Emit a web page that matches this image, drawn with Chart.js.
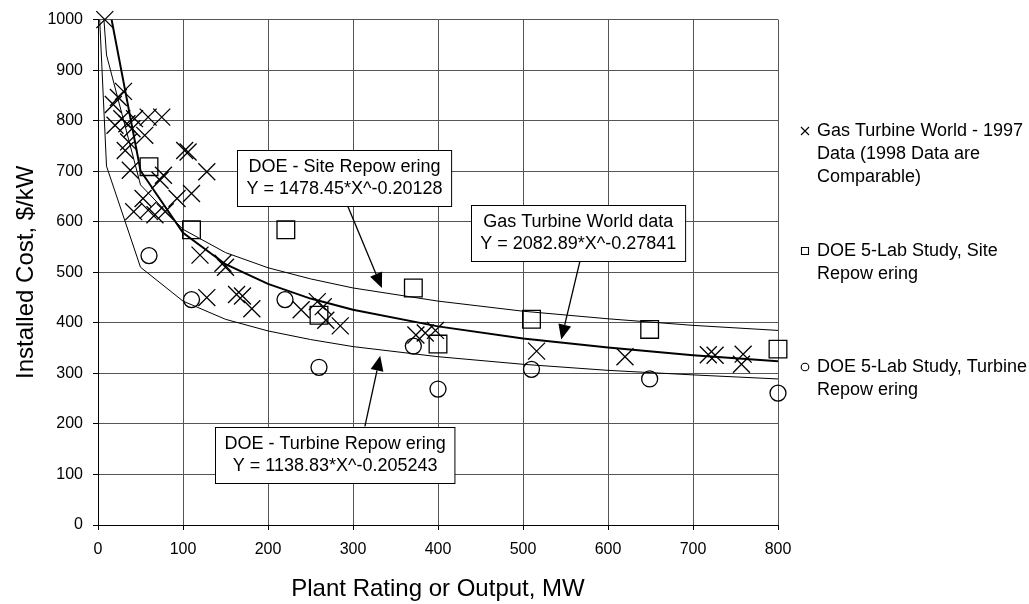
<!DOCTYPE html>
<html>
<head>
<meta charset="utf-8">
<script src="https://cdn.jsdelivr.net/npm/chart.js@4.4.1/dist/chart.umd.min.js"></script>
<style>
  html, body { margin: 0; padding: 0; background: #fff; }
  canvas { display: block; }
</style>
</head>
<body>
<canvas id="costChart" width="1029" height="604"></canvas>
<script>
// Gas Turbine World - 1997 data (X markers)
var gtwX = [8, 30, 24, 18, 20, 28, 34, 43, 59, 75, 40, 55, 36, 32, 102, 106, 128, 38, 77, 73,
            110, 93, 53, 42, 59, 67, 79, 120, 147, 150, 128, 163, 170, 181, 239, 258, 265, 268,
            285, 374, 385, 397, 516, 620, 718, 726, 759, 757];
var gtwY = [1000, 858, 846, 832, 791, 804, 794, 804, 807, 807, 784, 771, 758, 741, 741, 738, 699, 702, 692, 682,
            656, 646, 646, 620, 623, 614, 620, 534, 518, 510, 450, 456, 453, 428, 426, 442, 432, 405,
            394, 376, 380, 385, 344, 333, 337, 336, 338, 318];

// DOE 5-Lab Study, Site Repowering (squares)
var siteX = [60, 110, 221, 260, 371, 400, 510, 649, 800];
var siteY = [709, 584, 584, 415, 469, 358, 407, 387, 348];

// DOE 5-Lab Study, Turbine Repowering (circles)
var turbX = [60, 110, 220, 260, 371, 400, 510, 649, 800];
var turbY = [533, 446, 446, 312, 354, 269, 308, 289, 261];

// trend curves
var gtwFitX = [16, 50, 100, 150, 200, 250, 300, 400, 500, 600, 700, 800];
var gtwFitY = [1000, 701, 578, 516, 477, 448, 426, 393, 369, 351, 336, 324];
var siteFitX = [7, 10, 50, 100, 150, 200, 250, 300, 400, 500, 600, 700, 800];
var siteFitY = [1000, 930, 673, 585, 539, 509, 487, 469, 443, 423, 408, 395, 385];
var turbFitX = [2, 10, 50, 100, 150, 200, 250, 300, 400, 500, 600, 700, 800];
var turbFitY = [1000, 710, 510, 443, 407, 384, 367, 353, 333, 318, 306, 297, 289];

var legendLabels = [
  ['Gas Turbine World - 1997', 'Data (1998 Data are', 'Comparable)'],
  ['DOE 5-Lab Study, Site', 'Repow ering'],
  ['DOE 5-Lab Study, Turbine', 'Repow ering']
];

var boxTexts = [
  ['DOE - Site Repow ering', 'Y = 1478.45*X^-0.20128'],
  ['Gas Turbine World data', 'Y = 2082.89*X^-0.27841'],
  ['DOE - Turbine Repow ering', 'Y = 1138.83*X^-0.205243']
];

function pts(xs, ys) {
  var out = [];
  for (var i = 0; i < xs.length; i++) out.push({x: xs[i], y: ys[i]});
  return out;
}

var FONT = '"Liberation Sans", Arial, sans-serif';

// box centres and arrows in data units
var boxPlace = [
  {cx: 290, cy: 687, from: [294, 630], to: [334, 469]},
  {cx: 565, cy: 578, from: [567, 522], to: [545, 367]},
  {cx: 279, cy: 139, from: [314, 195], to: [332, 335]}
];

var calloutPlugin = {
  id: 'callouts',
  afterDatasetsDraw: function(chart) {
    var ctx = chart.ctx;
    var xs = chart.scales.x, ys = chart.scales.y;
    ctx.save();
    ctx.font = '18px ' + FONT;
    ctx.strokeStyle = '#000';
    ctx.fillStyle = '#000';
    ctx.lineWidth = 1.3;
    boxPlace.forEach(function(b) {
      var x1 = xs.getPixelForValue(b.from[0]), y1 = ys.getPixelForValue(b.from[1]);
      var x2 = xs.getPixelForValue(b.to[0]), y2 = ys.getPixelForValue(b.to[1]);
      var ang = Math.atan2(y2 - y1, x2 - x1);
      var len = 15, half = 6.5;
      var bx = x2 - len * Math.cos(ang), by = y2 - len * Math.sin(ang);
      ctx.beginPath();
      ctx.moveTo(x1, y1);
      ctx.lineTo(bx, by);
      ctx.stroke();
      ctx.beginPath();
      ctx.moveTo(x2, y2);
      ctx.lineTo(bx + half * Math.sin(ang), by - half * Math.cos(ang));
      ctx.lineTo(bx - half * Math.sin(ang), by + half * Math.cos(ang));
      ctx.closePath();
      ctx.fill();
    });
    ctx.lineWidth = 1;
    boxPlace.forEach(function(b, i) {
      var lines = boxTexts[i];
      var w = Math.max(ctx.measureText(lines[0]).width, ctx.measureText(lines[1]).width) + 18;
      var h = 56;
      var cx = xs.getPixelForValue(b.cx), cy = ys.getPixelForValue(b.cy);
      var left = Math.round(cx - w / 2) + 0.5, top = Math.round(cy - h / 2) + 0.5;
      ctx.fillStyle = '#fff';
      ctx.fillRect(left, top, w, h);
      ctx.strokeRect(left, top, w, h);
      ctx.fillStyle = '#000';
      ctx.textAlign = 'center';
      ctx.textBaseline = 'middle';
      ctx.fillText(lines[0], cx, cy - 11);
      ctx.fillText(lines[1], cx, cy + 11);
    });
    ctx.restore();
  }
};

var legendPlugin = {
  id: 'sideLegend',
  afterDraw: function(chart) {
    var ctx = chart.ctx;
    var tops = [131, 251, 367];
    ctx.save();
    ctx.font = '18px ' + FONT;
    ctx.fillStyle = '#000';
    ctx.strokeStyle = '#000';
    ctx.lineWidth = 1.1;
    ctx.textAlign = 'left';
    ctx.textBaseline = 'middle';
    legendLabels.forEach(function(lines, i) {
      var mx = 805, my = tops[i];
      ctx.beginPath();
      if (i === 0) {
        ctx.moveTo(mx - 4, my - 4); ctx.lineTo(mx + 4, my + 4);
        ctx.moveTo(mx - 4, my + 4); ctx.lineTo(mx + 4, my - 4);
      } else if (i === 1) {
        ctx.rect(mx - 3.5, my - 3.5, 7, 7);
      } else {
        ctx.arc(mx, my, 3.8, 0, Math.PI * 2);
      }
      ctx.stroke();
      lines.forEach(function(t, k) {
        ctx.fillText(t, 817, my + k * 23);
      });
    });
    ctx.restore();
  }
};

var ctx = document.getElementById('costChart').getContext('2d');
var chart = new Chart(ctx, {
  type: 'scatter',
  data: {
    datasets: [
      {
        label: 'Gas Turbine World - 1997 Data',
        data: pts(gtwX, gtwY),
        pointStyle: 'crossRot',
        pointRadius: 12,
        borderColor: '#000',
        backgroundColor: 'rgba(0,0,0,0)',
        pointBorderWidth: 1.3,
        clip: false
      },
      {
        label: 'DOE 5-Lab Study, Site Repowering',
        data: pts(siteX, siteY),
        pointStyle: 'rect',
        pointRadius: 12.5,
        borderColor: '#000',
        backgroundColor: 'rgba(0,0,0,0)',
        pointBorderWidth: 1.3,
        clip: false
      },
      {
        label: 'DOE 5-Lab Study, Turbine Repowering',
        data: pts(turbX, turbY),
        pointStyle: 'circle',
        pointRadius: 8,
        borderColor: '#000',
        backgroundColor: 'rgba(0,0,0,0)',
        pointBorderWidth: 1.3,
        clip: false
      },
      {
        label: 'GTW fit',
        data: pts(gtwFitX, gtwFitY),
        showLine: true,
        pointRadius: 0,
        borderColor: '#000',
        borderWidth: 2,
        tension: 0
      },
      {
        label: 'Site fit',
        data: pts(siteFitX, siteFitY),
        showLine: true,
        pointRadius: 0,
        borderColor: '#000',
        borderWidth: 1,
        tension: 0
      },
      {
        label: 'Turbine fit',
        data: pts(turbFitX, turbFitY),
        showLine: true,
        pointRadius: 0,
        borderColor: '#000',
        borderWidth: 1,
        tension: 0
      }
    ]
  },
  options: {
    responsive: false,
    animation: false,
    layout: { padding: { top: 17, right: 251, left: 0, bottom: 0 } },
    plugins: {
      legend: { display: false },
      tooltip: { enabled: false }
    },
    scales: {
      x: {
        type: 'linear',
        min: 0,
        max: 800,
        ticks: { stepSize: 100, color: '#000', padding: 10, font: { size: 16, family: FONT },
                 callback: function(v) { return String(v); } },
        grid: { color: '#555', lineWidth: 1, tickLength: 5, tickColor: '#000' },
        border: { color: '#000', width: 1 },
        title: { display: true, text: 'Plant Rating or Output, MW', color: '#000',
                 font: { size: 24, family: FONT }, padding: { bottom: 0 } },
        afterFit: function(s) { s.height = 79; }
      },
      y: {
        type: 'linear',
        min: 0,
        max: 1000,
        ticks: { stepSize: 100, color: '#000', padding: 10, font: { size: 16, family: FONT },
                 callback: function(v) { return String(v); } },
        grid: { color: '#555', lineWidth: 1, tickLength: 5, tickColor: '#000' },
        border: { color: '#000', width: 1 },
        title: { display: true, text: 'Installed Cost, $/kW', color: '#000',
                 font: { size: 24, family: FONT }, padding: { top: 12 } },
        afterFit: function(s) { s.width = 98; }
      }
    }
  },
  plugins: [calloutPlugin, legendPlugin]
});
</script>
</body>
</html>
